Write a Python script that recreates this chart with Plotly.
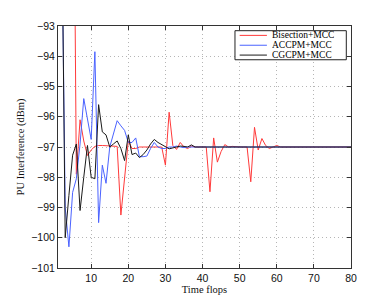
import plotly.graph_objects as go

time_flops = list(range(2, 81))

bisection_mcc = [None, None, None, -82.0, -97.9, -96.1, -96.8, -97.28, -97.1, -96.98,
                 -96.95, -96.95, -96.96, -96.97, -96.97, -96.98, -99.25, -97.95, -96.8, -97.05,
                 -97.05, -97.0, -97.0, -97.0, -97.0, -97.0, -97.0, -97.0, -97.6, -95.85,
                 -96.95, -97.08, -96.85, -97.0, -97.05, -96.97, -97.0, -97.0, -97.0, -97.0,
                 -98.48, -96.7, -97.5, -97.15, -96.92, -97.0, -96.98, -97.0, -97.0, -97.0,
                 -97.0, -98.15, -96.35, -97.1, -96.72, -96.95, -97.05, -97.0, -96.95] + [-97.0] * 20

accpm_mcc = [-89.0, -99.0, -100.3, -98.5, -98.05, -96.9, -95.4, -96.05, -96.75, -93.85,
             -99.5, -97.6, -98.2, -97.0, -96.6, -96.13, -96.3, -96.45, -96.85, -96.85,
             -96.7, -97.32, -97.32, -97.3, -97.05, -96.85, -97.0, -97.05, -97.05, -97.0,
             -97.0, -96.97, -97.0, -97.02, -97.0] + [-97.0] * 44

cgcpm_mcc = [-88.3, -100.0, -98.6, -97.27, -96.9, -99.1, -98.0, -96.95, -98.0, -98.05,
             -95.6, -96.5, -96.6, -97.0, -96.9, -96.8, -97.05, -97.45, -96.6, -97.25,
             -97.2, -97.35, -97.25, -97.1, -96.9, -96.75, -96.85, -96.92, -96.98, -97.06,
             -97.03, -97.0, -96.97, -96.98, -97.0, -96.93, -97.0] + [-97.0] * 42

series_names = ["Bisection+MCC", "ACCPM+MCC", "CGCPM+MCC"]
series_values = [bisection_mcc, accpm_mcc, cgcpm_mcc]
series_colors = ["#ff3a3a", "#4a62ff", "#1a1a1a"]

x_ticks = [10, 20, 30, 40, 50, 60, 70, 80]
y_ticks = [-93, -94, -95, -96, -97, -98, -99, -100, -101]

fig = go.Figure()
for name, vals, col in zip(series_names, series_values, series_colors):
    fig.add_trace(go.Scatter(x=time_flops, y=vals, mode="lines", name=name,
                             line=dict(color=col, width=1), showlegend=False,
                             connectgaps=False))

serif = "Liberation Serif"
sans = "Liberation Sans"

# legend box drawn in paper coordinates
lx0, lx1, ly0, ly1 = 0.604, 0.984, 0.8605, 0.9806
shapes = [dict(type="rect", xref="paper", yref="paper", x0=lx0, x1=lx1, y0=ly0, y1=ly1,
               fillcolor="white", line=dict(color="#222", width=1), layer="above")]
annotations = []
row_y = [0.9612, 0.9205, 0.8798]
for name, col, yy in zip(series_names, series_colors, row_y):
    shapes.append(dict(type="line", xref="paper", yref="paper", x0=0.620, x1=0.713,
                       y0=yy, y1=yy, line=dict(color=col, width=1), layer="above"))
    annotations.append(dict(xref="paper", yref="paper", x=0.728, y=yy, text=name,
                            showarrow=False, xanchor="left", yanchor="middle",
                            height=10, borderpad=0,
                            font=dict(family=serif, size=9.5, color="black")))

axis_common = dict(showline=True, linecolor="#333", linewidth=1, mirror="ticks",
                   ticks="inside", ticklen=4, tickcolor="#333",
                   showgrid=True, gridcolor="#b5b5b5", griddash="1px,3px", gridwidth=1,
                   zeroline=False, tickfont=dict(family=sans, size=10.5, color="#111"))

fig.update_layout(
    width=383, height=297,
    margin=dict(l=43, r=40, t=14, b=25),
    paper_bgcolor="white", plot_bgcolor="white",
    shapes=shapes, annotations=annotations,
    xaxis=dict(range=[1.06, 80], tickvals=x_ticks,
               title=dict(text="Time flops", font=dict(family=serif, size=10.5, color="#111"),
                          standoff=2),
               **axis_common),
    yaxis=dict(range=[-101, -93], tickvals=y_ticks,
               title=dict(text="PU Interference (dBm)",
                          font=dict(family=serif, size=10.5, color="#111"), standoff=4),
               **axis_common),
)

fig.write_html("out.html")
